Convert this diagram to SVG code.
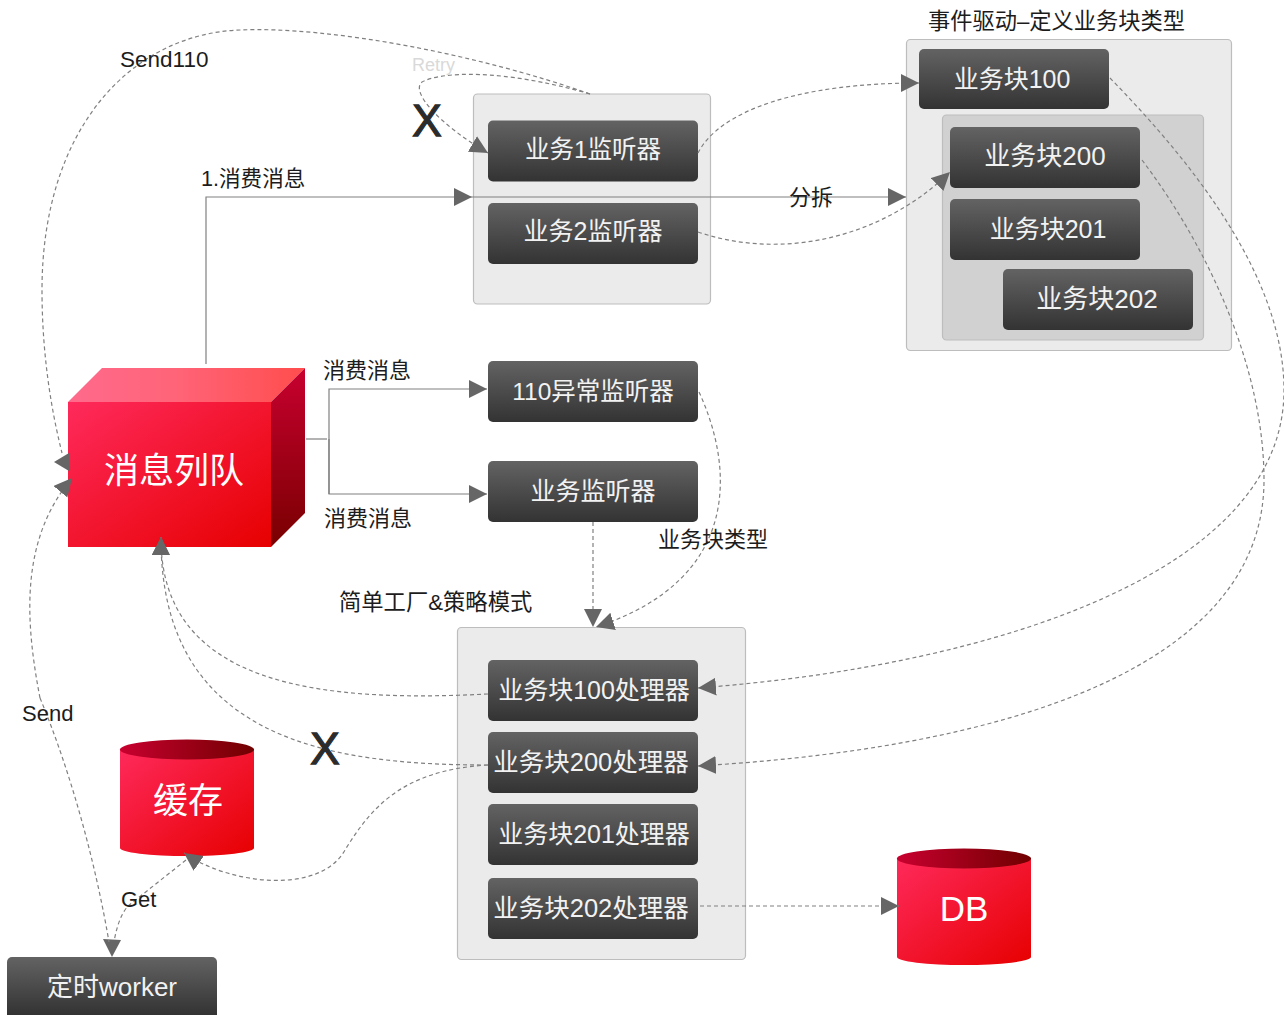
<svg xmlns="http://www.w3.org/2000/svg" width="1284" height="1015" viewBox="0 0 1284 1015">
<style>
text{font-family:"Liberation Sans","Noto Sans CJK SC",sans-serif;}
.t{font-size:22px;fill:#1c1c1c;}
.n{font-size:25px;fill:#f2f2f2;text-anchor:middle;}
.w{font-size:26px;}
.m{font-size:24.500px;}
.big{font-size:35px;fill:#fff;text-anchor:middle;}
.x{font-size:44px;fill:#2b2b2b;stroke:#2b2b2b;stroke-width:1.300;text-anchor:middle;}
.box{fill:url(#dark);stroke:none;}
.panel{fill:#ebebeb;stroke:#bdbdbd;stroke-width:1.2;}
.s{fill:none;stroke:#808080;stroke-width:1.2;}
.d{fill:none;stroke:#808080;stroke-width:1.2;stroke-dasharray:4 3;}
.a{marker-end:url(#arr);}
.h{fill:#666;}
</style>
<defs>
<marker id="arr" markerUnits="userSpaceOnUse" markerWidth="20" markerHeight="20" refX="18" refY="9" orient="auto"><path d="M0 0L18 9L0 18Z" fill="#666"/></marker>
<linearGradient id="dark" x1="0" y1="0" x2="0" y2="1"><stop offset="0" stop-color="#636363"/><stop offset="1" stop-color="#333"/></linearGradient>
<linearGradient id="red" x1="0" y1="0" x2="1" y2="1"><stop offset="0" stop-color="#ff2a5c"/><stop offset="1" stop-color="#e60000"/></linearGradient>
<linearGradient id="top" x1="0" y1="0" x2="1" y2="0"><stop offset="0" stop-color="#ff6a8c"/><stop offset="0.45" stop-color="#ff6478"/><stop offset="1" stop-color="#ff4d4d"/></linearGradient>
<linearGradient id="side" x1="0" y1="0" x2="0" y2="1"><stop offset="0" stop-color="#c8002f"/><stop offset="1" stop-color="#780000"/></linearGradient>
<linearGradient id="cap" x1="0" y1="0" x2="1" y2="0"><stop offset="0" stop-color="#c8002f"/><stop offset="1" stop-color="#700000"/></linearGradient>
</defs>

<g id="panel-listeners"><rect class="panel" x="473.500" y="94" width="237" height="210" rx="4"/></g>
<g id="panel-blocks"><rect class="panel" x="906.500" y="39.500" width="325" height="311" rx="4"/></g>
<g id="panel-blocks-inner"><rect x="942.500" y="115" width="261" height="225" rx="4" fill="#d1d1d1" stroke="#bdbdbd" stroke-width="1.200"/></g>
<g id="panel-handlers"><rect class="panel" x="457.500" y="627.500" width="288" height="332" rx="4"/></g>

<g id="queue">
<path d="M68 402L102 368H305L271 402Z" fill="url(#top)"/>
<path d="M271 402L305 368V513L271 547Z" fill="url(#side)"/>
<rect x="68" y="402" width="203" height="145" fill="url(#red)"/>
<text class="big" x="174" y="483">消息列队</text>
</g>

<g id="cache">
<path d="M120 749V848A67 8 0 0 0 254 848V749Z" fill="url(#red)"/>
<ellipse cx="187" cy="749.500" rx="67" ry="10" fill="url(#cap)"/>
<text class="big" x="188" y="813">缓存</text>
</g>
<g id="db">
<path d="M897 858V957A67 8 0 0 0 1031 957V858Z" fill="url(#red)"/>
<ellipse cx="964" cy="858.500" rx="67" ry="10" fill="url(#cap)"/>
<text class="big" x="964" y="921">DB</text>
</g>

<g id="l1"><rect class="box" x="488" y="120.500" width="210" height="61" rx="5"/><text class="n m" x="593" y="158">业务1监听器</text></g>
<g id="l2"><rect class="box" x="488" y="203" width="210" height="61" rx="5"/><text class="n" x="593" y="240">业务2监听器</text></g>
<g id="l110"><rect class="box" x="488" y="361" width="210" height="61" rx="5"/><text class="n m" x="593" y="400">110异常监听器</text></g>
<g id="lbiz"><rect class="box" x="488" y="461" width="210" height="61" rx="5"/><text class="n" x="593" y="500">业务监听器</text></g>
<g id="b100"><rect class="box" x="919" y="49" width="190" height="60" rx="5"/><text class="n" x="1012" y="88">业务块100</text></g>
<g id="b200"><rect class="box" x="950" y="127" width="190" height="61" rx="5"/><text class="n w" x="1045" y="165">业务块200</text></g>
<g id="b201"><rect class="box" x="950" y="199" width="190" height="61" rx="5"/><text class="n" x="1048" y="238">业务块201</text></g>
<g id="b202"><rect class="box" x="1003" y="269" width="190" height="61" rx="5"/><text class="n w" x="1097" y="308">业务块202</text></g>
<g id="h100"><rect class="box" x="488" y="660" width="210" height="61" rx="5"/><text class="n" x="594" y="699">业务块100处理器</text></g>
<g id="h200"><rect class="box" x="488" y="732" width="210" height="61" rx="5"/><text class="n" x="591" y="771" style="font-size:25.500px">业务块200处理器</text></g>
<g id="h201"><rect class="box" x="488" y="804" width="210" height="61" rx="5"/><text class="n" x="594" y="843">业务块201处理器</text></g>
<g id="h202"><rect class="box" x="488" y="878" width="210" height="61" rx="5"/><text class="n" x="591" y="917" style="font-size:25.500px">业务块202处理器</text></g>
<g id="worker"><path class="box" d="M7 1015V962a5 5 0 0 1 5-5H212a5 5 0 0 1 5 5V1015Z"/><text class="n w" x="112" y="996">定时worker</text></g>

<g id="connectors">
<path class="s a" d="M206 364V197H472"/>
<path class="s a" d="M472 197H906"/>
<path class="s" d="M306 439H327"/>
<path class="s a" d="M329 494V389H487"/>
<path class="s a" d="M329 439V494H487"/>
<path class="d a" d="M590 94C500 68 440 72 422 82C410 92 440 125 488 153"/>
<path class="d" d="M590 94C480 55 330 26 240 30C130 34 42 130 42 290C42 350 50 405 62 453"/>
<polygon class="h" points="54,462 69,453 69,471"/>
<path class="d a" d="M698 153C720 110 800 83 919 83"/>
<path class="d a" d="M698 232C780 260 880 240 950 172"/>
<path class="d a" d="M699 392C735 470 740 580 596 627"/>
<path class="d a" d="M593 522V627"/>
<path class="d a" d="M1110 78C1180 150 1284 270 1284 390C1284 570 1000 665 698 688"/>
<path class="d a" d="M1142 160C1210 250 1264 370 1264 480C1264 650 1050 745 698 766"/>
<path class="d a" d="M488 694C330 702 160 690 161 537"/>
<path class="d a" d="M488 765C330 765 160 740 161 537"/>
<path class="d a" d="M488 765C400 770 370 810 345 850C320 895 230 885 184 853"/>
<path class="d a" d="M700 906H899"/>
<path class="d" d="M186 860L128 906C120 915 116 930 114 942"/>
<polygon class="h" points="103,939 121,940 112,957"/>
<path class="d a" d="M40 698C25 620 20 540 72 478"/>
<path class="d" d="M40 698C70 770 95 860 109 942"/>
</g>

<g id="labels">
<text class="t" x="120" y="67" style="font-size:22.500px">Send110</text>
<text x="412" y="71" font-size="18" fill="#d9d9d9">Retry</text>
<text class="x" x="427" y="136">X</text>
<text class="t" x="201" y="186" style="font-size:21.600px">1.消费消息</text>
<text class="t" x="789" y="205">分拆</text>
<text class="t" x="928" y="29" style="font-size:22.250px">事件驱动–定义业务块类型</text>
<text class="t" x="323" y="378">消费消息</text>
<text class="t" x="324" y="526">消费消息</text>
<text class="t" x="658" y="547">业务块类型</text>
<text class="t" x="339" y="610" style="font-size:22.300px">简单工厂&amp;策略模式</text>
<text class="t" x="22" y="721">Send</text>
<text class="x" x="325" y="764">X</text>
<text class="t" x="121" y="907">Get</text>
</g>
</svg>
